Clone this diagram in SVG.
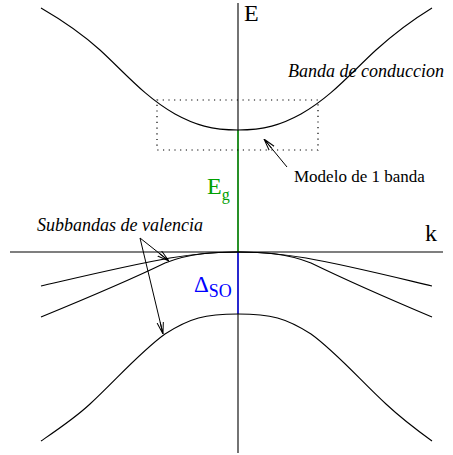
<svg xmlns="http://www.w3.org/2000/svg" width="453" height="455" viewBox="0 0 453 455">
<style>
.c{fill:none;stroke:#000;stroke-width:1.1}
.ax{fill:none;stroke:#000;stroke-width:1.1}
.ar{fill:none;stroke:#000;stroke-width:1}
.t{font-family:"Liberation Serif","Times New Roman",serif;fill:#000}
.i{font-style:italic}
</style>
<defs>
<marker id="ah" viewBox="0 0 12 8" refX="12" refY="4" markerWidth="12" markerHeight="8" markerUnits="userSpaceOnUse" orient="auto">
<path d="M0,0.8 L12,4 L0,7.2 M0,4 L12,4" fill="none" stroke="#000" stroke-width="1"/>
</marker>
</defs>
<g id="axes">
<line class="ax" x1="238" y1="3" x2="238" y2="453"/>
<line class="ax" x1="10" y1="252" x2="443" y2="252"/>
<line x1="238" y1="130" x2="238" y2="252" stroke="#00a000" stroke-width="1.3"/>
<line x1="238" y1="252" x2="238" y2="314" stroke="#0000ff" stroke-width="1.3"/>
</g>
<g id="conduction-band">
<path class="c" d="M41,8 C60,19 80,32 100,50 C125,73 145,97 175,114 C195,125 212,130 238,130 C264,130 281,125 301,114 C331,97 351,73 376,50 C396,32 414,19 432,8"/>
</g>
<g id="valence-bands">
<path class="c" d="M41,286 C80,277 130,265 170,258 C200,253 220,252 238,252 C256,252 276,253 306,258 C346,265 394,277 432,286"/>
<path class="c" d="M41,317 C80,301 130,280 165,263 C190,253 215,252 238,252 C261,252 286,253 311,263 C346,280 394,301 432,317"/>
<path class="c" d="M41,441 C60,428 75,418 90,404 C115,381 140,352 165,334 C190,318 205,314 238,314 C271,314 286,318 311,334 C336,352 361,381 386,404 C401,418 414,428 432,441"/>
</g>
<g id="model-box">
<rect x="157" y="100" width="161" height="50" fill="none" stroke="#000" stroke-width="1.2" stroke-dasharray="1.2 4.5"/>
</g>
<g id="connectors">
<line class="ar" x1="287" y1="167" x2="264" y2="139" marker-end="url(#ah)"/>
<line class="ar" x1="140" y1="238" x2="169" y2="261" marker-end="url(#ah)"/>
<line class="ar" x1="140" y1="238" x2="163" y2="334" marker-end="url(#ah)"/>
</g>
<g id="labels">
<text class="t" x="244" y="21" font-size="24">E</text>
<text class="t" x="425" y="241" font-size="24">k</text>
<text class="t i" x="288" y="77" font-size="18">Banda de conduccion</text>
<text class="t" x="294" y="182" font-size="17">Modelo de 1 banda</text>
<text class="t i" x="37" y="231" font-size="18">Subbandas de valencia</text>
<text class="t" x="207" y="194" font-size="24" style="fill:#00a000">E<tspan font-size="16" dy="6">g</tspan></text>
<text class="t" x="194" y="292" font-size="23" style="fill:#0000ff">Δ<tspan font-size="18" dy="5">SO</tspan></text>
</g>
</svg>
